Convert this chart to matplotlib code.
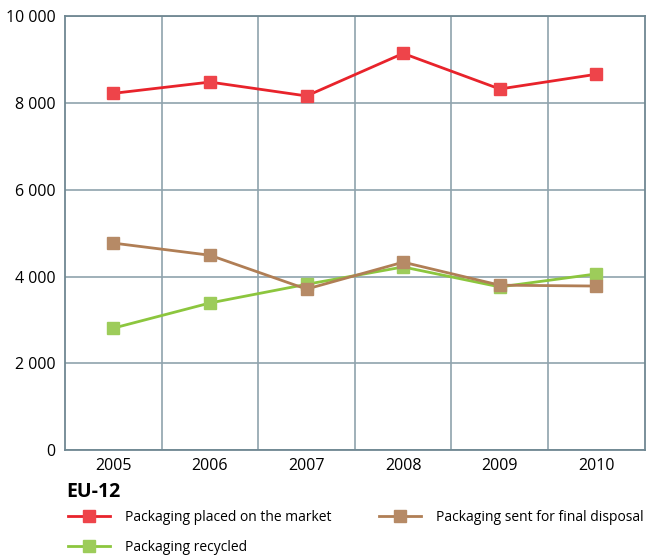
"""
EU-12 packaging: placed on the market, recycled and sent for final disposal.
"""

import numpy as np
import matplotlib.pyplot as plt
from matplotlib.ticker import FuncFormatter

plt.rcParams['font.family'] = ['Open Sans', 'DejaVu Sans']

years = ['2005', '2006', '2007', '2008', '2009', '2010']
placed = [8220, 8480, 8160, 9140, 8320, 8660]
recycled = [2810, 3390, 3820, 4220, 3760, 4060]
disposal = [4770, 4490, 3710, 4330, 3800, 3780]


def thousands(v, pos):
    return f'{int(v):,}'.replace(',', ' ')


def main():
    fig = plt.figure(figsize=(6.46, 5.55), dpi=100)
    ax = fig.add_axes([0.1006, 0.189, 0.8974, 0.782])

    x = np.arange(len(years))
    grid_col = '#8fa3ad'

    # series: (values, line colour, marker colour, label)
    series = [
        (placed, '#e8232b', '#ee444a', 'Packaging placed on the market'),
        (recycled, '#8cc63e', '#9dcc5a', 'Packaging recycled'),
        (disposal, '#b07e55', '#b68a66', 'Packaging sent for final disposal'),
    ]
    handles = []
    for vals, lc, mc, lab in series:
        h, = ax.plot(x, vals, color=lc, lw=2, marker='s', ms=8,
                     mfc=mc, mec=mc, label=lab, zorder=3)
        handles.append(h)

    ax.set_xlim(-0.5, len(years) - 0.5)
    ax.set_ylim(0, 10000)
    ax.set_xticks(x)
    ax.set_xticklabels(years)
    ax.set_xticks(np.arange(len(years) - 1) + 0.5, minor=True)
    ax.set_yticks(np.arange(0, 10001, 2000))
    ax.yaxis.set_major_formatter(FuncFormatter(thousands))

    ax.grid(True, axis='y', which='major', color=grid_col, lw=1.2)
    ax.grid(True, axis='x', which='minor', color=grid_col, lw=1.2)
    ax.tick_params(which='both', length=0, labelsize=11.5, colors='black')
    ax.tick_params(axis='x', pad=6)
    ax.tick_params(axis='y', pad=7)
    for s in ax.spines.values():
        s.set_color('#6f8792')
        s.set_linewidth(1.3)
    ax.set_axisbelow(True)

    fig.text(0.102, 0.113, 'EU-12', fontsize=14, fontweight='bold',
             va='center', ha='left')
    fig.legend(handles=handles, ncol=2, loc='upper left',
               bbox_to_anchor=(0.097, 0.091), frameon=False, fontsize=10,
               handlelength=3.0, handletextpad=1.1, columnspacing=3.4,
               labelspacing=1.05, borderaxespad=0)

    fig.savefig('out.png', dpi=100)


if __name__ == '__main__':
    main()
